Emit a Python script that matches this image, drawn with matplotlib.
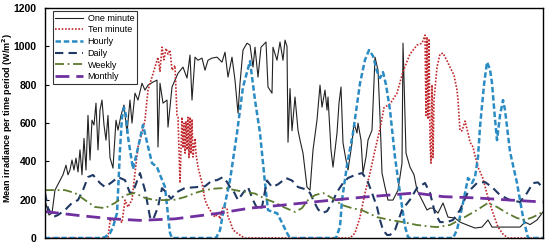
import matplotlib
matplotlib.use('Agg')
import matplotlib.pyplot as plt
import numpy as np

# series as (time step, mean irradiance W/m2) pairs
one_min = [(0, 198), (4, 120), (7, 130), (10, 250), (15, 300), (18, 330), (21, 380), (23, 330), (25, 355),
           (27, 407), (29, 355), (31, 417), (33, 345), (35, 460), (37, 330), (39, 520), (41, 355), (43, 640),
           (45, 407), (47, 615), (49, 590), (51, 704), (53, 460), (55, 668), (57, 720), (59, 590), (61, 511),
           (63, 640), (65, 420), (68, 365), (71, 615), (73, 563), (76, 640), (79, 694), (82, 548), (85, 720),
           (87, 600), (90, 756), (93, 720), (97, 808), (100, 772), (103, 798), (108, 814), (112, 824),
           (113, 475), (115, 808), (118, 704), (122, 720), (123, 579), (127, 788), (130, 824), (133, 860),
           (138, 892), (142, 835), (145, 955), (147, 720), (150, 944), (153, 928), (157, 939), (160, 876),
           (163, 928), (167, 939), (172, 944), (177, 918), (180, 970), (183, 840), (187, 944), (190, 824),
           (193, 652), (195, 808), (198, 981), (202, 1017), (205, 1007), (208, 892), (210, 996), (213, 840),
           (216, 996), (218, 1007), (221, 1023), (223, 788), (227, 756), (228, 996), (232, 928), (235, 1023),
           (238, 928), (240, 1033), (242, 1000), (243, 500), (245, 780), (247, 560), (250, 736), (253, 563),
           (255, 511), (258, 443), (262, 266), (265, 250), (268, 459), (272, 616), (275, 798), (277, 683),
           (280, 772), (282, 668), (283, 736), (286, 459), (288, 370), (292, 548), (294, 704), (296, 788),
           (298, 496), (301, 407), (303, 355), (307, 496), (309, 600), (312, 548), (313, 600), (316, 511),
           (318, 339), (321, 423), (323, 511), (327, 563), (330, 944), (333, 876), (335, 631), (337, 339),
           (340, 266), (343, 198), (348, 198), (353, 250), (357, 391), (358, 1017), (361, 443), (365, 370),
           (369, 330), (372, 250), (377, 198), (382, 146), (385, 156), (388, 156), (393, 130), (398, 183),
           (403, 109), (410, 104), (415, 83), (422, 68), (430, 52), (437, 57), (443, 94), (447, 57),
           (455, 57), (465, 57), (475, 57), (480, 83), (485, 70), (492, 94), (498, 136)]

ten_min = [(0, 0), (63, 0), (65, 90), (70, 94), (73, 104), (77, 80), (80, 198), (83, 162), (87, 200),
           (90, 339), (93, 475), (97, 548), (100, 616), (103, 772), (107, 840), (110, 892), (113, 944),
           (115, 870), (117, 996), (119, 930), (121, 990), (123, 960), (125, 981), (127, 876), (130, 900),
           (132, 640), (133, 631), (135, 287), (137, 631), (138, 470), (139, 600), (140, 443), (141, 610),
           (142, 460), (143, 630), (144, 420), (145, 631), (146, 440), (147, 620), (148, 423), (150, 520),
           (151, 440), (153, 370), (157, 287), (160, 198), (163, 162), (167, 130), (170, 109), (173, 130),
           (175, 100), (178, 162), (182, 156), (183, 109), (185, 90), (188, 42), (192, 26), (198, 5),
           (200, 0), (305, 0), (310, 26), (315, 109), (320, 235), (325, 339), (330, 459), (335, 570),
           (339, 680), (345, 700), (352, 756), (358, 870), (365, 960), (372, 1007), (377, 1017), (380, 1059),
           (381, 640), (382, 1050), (383, 620), (384, 1040), (385, 500), (386, 391), (387, 800), (388, 420),
           (389, 720), (392, 892), (395, 960), (398, 965), (402, 925), (405, 892), (409, 850), (412, 772),
           (413, 720), (415, 560), (417, 560), (420, 610), (423, 548), (425, 500), (428, 475), (430, 430),
           (433, 370), (438, 310), (443, 210), (448, 130), (453, 57), (458, 20), (463, 0), (498, 0)]

hourly = [(0, 0), (55, 0), (60, 5), (65, 25), (68, 57), (72, 130), (73, 235), (75, 459), (77, 631), (79, 680),
          (81, 640), (83, 527), (88, 360), (93, 470), (98, 590), (102, 500), (107, 391), (112, 370),
          (115, 330), (120, 266), (123, 120), (125, 26), (127, 0), (171, 0), (175, 40), (178, 130),
          (185, 302), (192, 548), (198, 788), (205, 923), (210, 720), (215, 548), (220, 287), (223, 146),
          (228, 135), (232, 130), (237, 80), (242, 26), (245, 0), (291, 0), (295, 60), (297, 198),
          (302, 380), (308, 548), (315, 808), (320, 930), (324, 981), (328, 950), (332, 870), (335, 835),
          (338, 866), (341, 800), (345, 668), (350, 420), (355, 235), (360, 60), (363, 5), (365, 0),
          (408, 0), (412, 42), (418, 183), (423, 313), (427, 287), (430, 318), (433, 423), (435, 580),
          (439, 800), (442, 918), (445, 880), (447, 808), (450, 620), (452, 511), (455, 640), (458, 720),
          (460, 668), (465, 450), (472, 287), (478, 109), (483, 0), (498, 0)]

daily = [(0, 235), (3, 156), (8, 109), (13, 120), (20, 146), (27, 183), (33, 198), (38, 250), (43, 318),
         (48, 329), (55, 287), (60, 266), (67, 292), (73, 318), (80, 302), (85, 235), (88, 240), (95, 339),
         (100, 250), (105, 109), (108, 94), (113, 162), (117, 260), (121, 240), (126, 205), (132, 240),
         (140, 261), (150, 265), (160, 270), (167, 300), (172, 302), (178, 318), (182, 292), (185, 266),
         (188, 250), (193, 198), (198, 235), (203, 266), (208, 198), (213, 146), (217, 162), (222, 300),
         (227, 266), (233, 280), (241, 313), (247, 300), (253, 266), (260, 255), (265, 235), (269, 190),
         (273, 150), (277, 130), (282, 140), (287, 183), (292, 240), (298, 287), (303, 313), (310, 329),
         (317, 339), (322, 305), (327, 235), (332, 162), (335, 94), (338, 42), (342, 16), (345, 16),
         (350, 42), (357, 146), (365, 200), (372, 261), (380, 287), (385, 235), (390, 130), (395, 83),
         (402, 83), (408, 94), (415, 146), (423, 240), (432, 287), (440, 292), (447, 266), (455, 224),
         (465, 198), (475, 188), (482, 235), (488, 287), (493, 290), (498, 261)]

weekly = [(0, 250), (20, 250), (30, 235), (40, 198), (50, 162), (60, 156), (70, 183), (80, 224), (90, 235),
          (100, 209), (110, 198), (120, 198), (130, 200), (140, 214), (150, 235), (160, 250), (170, 258),
          (180, 261), (190, 250), (200, 240), (210, 232), (220, 205), (230, 185), (240, 158), (250, 136),
          (257, 156), (263, 198), (270, 224), (278, 235), (287, 209), (297, 172), (307, 156), (317, 145),
          (332, 109), (345, 94), (358, 83), (372, 68), (385, 60), (392, 57), (405, 68), (418, 104),
          (432, 146), (443, 183), (452, 162), (462, 130), (472, 104), (480, 94), (488, 109), (498, 136)]

monthly = [(0, 138), (33, 118), (67, 100), (95, 92), (130, 100), (172, 128), (205, 156), (238, 172),
           (272, 190), (320, 214), (370, 235), (398, 216), (432, 209), (465, 198), (498, 188)]

yticks = [0, 200, 400, 600, 800, 1000, 1200]

plt.rcParams['font.family'] = ['Liberation Sans', 'DejaVu Sans']

fig = plt.figure(figsize=(5.5, 2.46), dpi=100)
ax = fig.add_axes([0.0818, 0.0325, 0.9055, 0.9345])


def draw(pairs, **kw):
    t, v = zip(*pairs)
    ax.plot(t, v, **kw)


draw(one_min, color='#222222', lw=0.8, label='One minute')
draw(ten_min, color='#c0282d', lw=1.2, linestyle=(0, (1, 1)), label='Ten minute')
draw(hourly, color='#2b8cc4', lw=1.8, linestyle=(0, (2.2, 1.1)), label='Hourly')
draw(daily, color='#1f3864', lw=1.5, linestyle=(0, (4, 2.5)), label='Daily')
draw(weekly, color='#5b7a2e', lw=1.3, linestyle=(0, (5, 2, 1, 2)), label='Weekly')
draw(monthly, color='#7030a0', lw=2.0, linestyle=(0, (5, 2.5)), label='Monthly')

ax.set_xlim(0, 498)
ax.set_ylim(0, 1200)
ax.set_xticks([])
ax.set_yticks(yticks)
ax.tick_params(axis='y', direction='in', length=3, labelsize=7.5, pad=6)
for lab in ax.get_yticklabels():
    lab.set_fontweight('bold')
ax.set_ylabel('Mean irradiance per time period (W/m$^\\mathbf{2}$)', fontsize=6.5, fontweight='bold')
ax.yaxis.set_label_coords(-0.060, 0.52)
for s in ax.spines.values():
    s.set_linewidth(1.0)

leg = ax.legend(loc='upper left', bbox_to_anchor=(0.012, 0.995), fontsize=6.5, frameon=True,
                fancybox=False, edgecolor='black', handlelength=3.0, labelspacing=0.3,
                borderpad=0.3, handletextpad=0.55, borderaxespad=0.2)
leg.get_frame().set_linewidth(0.8)

fig.savefig('out.png', dpi=100)
